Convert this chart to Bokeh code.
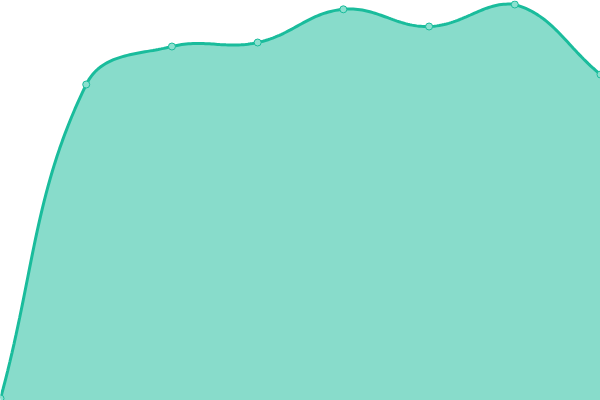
import numpy as np
from bokeh.plotting import figure
from bokeh.embed import file_html
from bokeh.resources import INLINE
from bokeh.models import Range1d

# data
labels = ["1", "2", "3", "4", "5", "6", "7", "8"]
values = [0.5, 79, 88.5, 89.5, 97.8, 93.5, 99, 81.5]

W, H = 600, 400
XMAX, YMAX = len(values) - 1, 100.0
LINE = "#1abc9c"

# Chart.js-like spline (tension 0.4) computed in pixel space
sx, sy = W / XMAX, H / YMAX
px = np.arange(len(values)) * sx
py = np.array(values) * sy
t = 0.4
cps = []
n = len(values)
for i in range(n):
    p0 = (px[max(i - 1, 0)], py[max(i - 1, 0)])
    p1 = (px[i], py[i])
    p2 = (px[min(i + 1, n - 1)], py[min(i + 1, n - 1)])
    d01 = np.hypot(p1[0] - p0[0], p1[1] - p0[1])
    d12 = np.hypot(p2[0] - p1[0], p2[1] - p1[1])
    s01 = d01 / (d01 + d12) if d01 + d12 else 0
    s12 = d12 / (d01 + d12) if d01 + d12 else 0
    fa, fb = t * s01, t * s12
    prev = (p1[0] - fa * (p2[0] - p0[0]), p1[1] - fa * (p2[1] - p0[1]))
    nxt = (p1[0] + fb * (p2[0] - p0[0]), p1[1] + fb * (p2[1] - p0[1]))
    prev = (min(max(prev[0], 0), W), min(max(prev[1], 0), H))
    nxt = (min(max(nxt[0], 0), W), min(max(nxt[1], 0), H))
    cps.append((prev, nxt))

cx, cy = [], []
tt = np.linspace(0, 1, 40)
for i in range(n - 1):
    a = (px[i], py[i]); b = cps[i][1]; c = cps[i + 1][0]; d = (px[i + 1], py[i + 1])
    bx = (1 - tt) ** 3 * a[0] + 3 * (1 - tt) ** 2 * tt * b[0] + 3 * (1 - tt) * tt ** 2 * c[0] + tt ** 3 * d[0]
    by = (1 - tt) ** 3 * a[1] + 3 * (1 - tt) ** 2 * tt * b[1] + 3 * (1 - tt) * tt ** 2 * c[1] + tt ** 3 * d[1]
    cx.extend(bx / sx); cy.extend(by / sy)
cx = np.array(cx); cy = np.array(cy)

p = figure(width=W, height=H, output_backend="svg", toolbar_location=None,
           x_range=Range1d(0, XMAX), y_range=Range1d(0, YMAX), min_border=0)
p.axis.visible = False
p.grid.visible = False
p.outline_line_color = None
p.background_fill_color = "white"
p.border_fill_color = "white"

p.varea(x=cx, y1=np.zeros_like(cy), y2=cy, fill_color=LINE, fill_alpha=0.52)
p.line(cx, cy, line_color=LINE, line_width=3)
p.scatter(list(range(n)), values, size=7, fill_color="#8ce0cf", line_color=LINE, line_width=1)

open("out.html", "w").write(file_html(p, INLINE))
